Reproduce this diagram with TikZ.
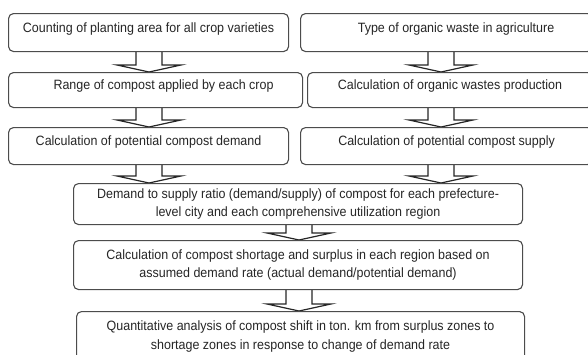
\documentclass[tikz,border=0pt]{standalone}
\usepackage{fontspec}
\setmainfont{Liberation Sans}[FakeStretch=0.925]
\usetikzlibrary{calc,backgrounds}
\tikzset{
  stepbox/.style={draw=black!70,line width=1.1pt,rounded corners=5pt,fill=white,
    inner sep=0pt,align=center,anchor=north west,text=black!85,
    font=\fontsize{13.5}{18.5}\selectfont},
  oneline/.style={text height=9.5pt,text depth=10.5pt},
  blockarrow/.style={draw=black!85,line width=1.2pt,fill=white,line join=miter}
}
% block arrow from node #1 down to node #2 along column #3
\newcommand{\blockArrow}[3]{%
  \def\shaftW{13}\def\headW{32}\def\headH{7}%
  \path (#1.south -| #3) coordinate (aTop) (#2.north -| #3) coordinate (aTip);
  \draw[blockarrow] ($(aTop)+(-\shaftW,0)$) -- ($(aTip)+(-\shaftW,-\headH)$)
    -- ($(aTip)+(-\headW,-\headH)$) -- (aTip) -- ($(aTip)+(\headW,-\headH)$)
    -- ($(aTip)+(\shaftW,-\headH)$) -- ($(aTop)+(\shaftW,0)$);
}

\begin{document}
\begin{tikzpicture}[x=1pt,y=-1pt]

\useasboundingbox (0,0) rectangle (588,354);
\clip (0,0) rectangle (588,354);

% columns of the arrows
\coordinate (colL) at (149,0);
\coordinate (colR) at (441,0);
\coordinate (colM) at (299,0);

% demand side:
\node[stepbox,oneline,minimum width=280pt,minimum height=38pt] (count) at (8,13)
  {Counting of planting area for all crop varieties};
\node[stepbox,oneline,minimum width=294pt,minimum height=35pt] (range) at (8,72)
  {\hspace*{16pt}Range of compost applied by each crop};
\node[stepbox,oneline,minimum width=280pt,minimum height=37pt] (demand) at (8,127)
  {Calculation of potential compost demand};

% supply side:
\node[stepbox,oneline,minimum width=292pt,minimum height=38pt] (waste) at (300,13)
  {\hspace*{19pt}Type of organic waste in agriculture};
\node[stepbox,oneline,minimum width=285pt,minimum height=35pt] (output) at (307,72)
  {Calculation of organic wastes production};
\node[stepbox,oneline,minimum width=292pt,minimum height=37pt] (supply) at (300,127)
  {Calculation of potential compost supply};

% common steps:
\node[stepbox,minimum width=449pt,minimum height=41pt] (ratio) at (73,183)
  {Demand to supply ratio (demand/supply) of compost for each prefecture-\\
   level city and each comprehensive utilization region};
\node[stepbox,minimum width=449pt,minimum height=49pt] (gap) at (73,240)
  {Calculation of compost shortage and surplus in each region based on\\
   assumed demand rate (actual demand/potential demand)};
\node[stepbox,minimum width=448pt,minimum height=50pt,text depth=3pt] (shift) at (76,311)
  {Quantitative analysis of compost shift in ton. km from surplus zones to\\
   shortage zones in response to change of demand rate};

% arrows:
\begin{scope}[on background layer]
\blockArrow{count}{range}{colL}
\blockArrow{range}{demand}{colL}
\blockArrow{demand}{ratio}{colL}
\blockArrow{waste}{output}{colR}
\blockArrow{output}{supply}{colR}
\blockArrow{supply}{ratio}{colR}
\blockArrow{ratio}{gap}{colM}
\blockArrow{gap}{shift}{colM}
\end{scope}

\end{tikzpicture}
\end{document}
